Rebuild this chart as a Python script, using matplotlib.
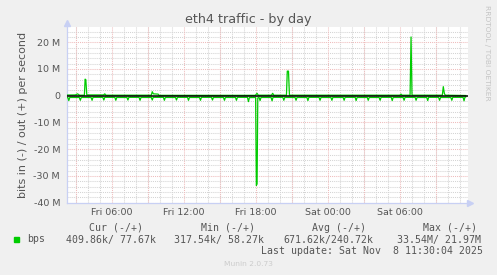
import matplotlib
matplotlib.use("Agg")
import matplotlib.pyplot as plt
from matplotlib.ticker import MultipleLocator, FixedLocator

# Hours since Fri 00:00, traffic in Mbit/s
in_hours = [2.25, 2.32, 2.40, 2.48,
            3.28, 3.36, 3.44,
            4.26, 4.34, 4.42,
            5.24, 5.32, 5.40,
            6.24, 6.32, 6.40,
            7.25, 7.33, 7.41,
            8.26, 8.34, 8.42,
            9.28, 9.36, 9.44,
            10.29, 10.37, 10.45,
            11.30, 11.38, 11.46,
            12.30, 12.38, 12.46,
            13.30, 13.38, 13.46,
            14.30, 14.38, 14.46,
            15.30, 15.38, 15.46,
            16.30, 16.38, 16.46,
            17.30, 17.38, 17.46,
            17.98, 18.04, 18.10, 18.16,
            18.27, 18.35, 18.43,
            19.27, 19.35, 19.43,
            20.25, 20.33, 20.41,
            21.27, 21.35, 21.43,
            22.26, 22.34, 22.42,
            23.27, 23.35, 23.43,
            24.26, 24.34, 24.42,
            25.28, 25.36, 25.44,
            26.28, 26.36, 26.44,
            27.29, 27.37, 27.45,
            28.28, 28.36, 28.44,
            29.29, 29.37, 29.45,
            30.28, 30.36, 30.44,
            31.28, 31.36, 31.44,
            32.25, 32.33, 32.41,
            33.24, 33.32, 33.40,
            34.26, 34.34, 34.42,
            35.28, 35.36, 35.44, 35.50]
in_mbps = [0.70, 0.65, 1.80, 0.65,
           0.65, 1.70, 0.65,
           0.65, 1.70, 0.60,
           0.60, 1.60, 0.60,
           0.60, 1.70, 0.65,
           0.65, 1.60, 0.60,
           0.60, 1.70, 0.65,
           0.65, 1.60, 0.60,
           0.60, 1.70, 0.65,
           0.65, 1.60, 0.60,
           0.60, 1.70, 0.65,
           0.65, 1.70, 0.60,
           0.60, 1.60, 0.65,
           0.65, 1.70, 0.65,
           0.65, 1.70, 0.60,
           0.60, 2.20, 0.70,
           0.65, 33.54, 33.0, 0.80,
           0.65, 1.80, 0.65,
           0.65, 1.90, 0.60,
           0.60, 1.70, 0.65,
           0.65, 1.70, 0.65,
           0.65, 1.80, 0.60,
           0.60, 1.70, 0.65,
           0.65, 1.70, 0.65,
           0.65, 1.70, 0.60,
           0.60, 1.80, 0.65,
           0.65, 1.70, 0.65,
           0.65, 1.70, 0.60,
           0.60, 1.80, 0.65,
           0.65, 1.70, 0.60,
           0.60, 1.70, 0.65,
           0.65, 1.80, 0.60,
           0.60, 1.70, 0.65,
           0.65, 1.70, 0.60,
           0.60, 1.90, 0.45, 0.41]

out_hours = [2.25, 2.95, 3.13, 3.30, 3.70, 3.76, 3.82, 3.90,
             5.30, 5.40, 5.50, 9.28, 9.36, 9.45, 9.85, 9.92,
             17.95, 18.10, 18.20, 19.30, 19.40, 19.50,
             20.55, 20.62, 20.72, 20.80, 30.00, 30.10, 30.20,
             30.86, 30.94, 31.02, 33.55, 33.63, 33.72, 33.80, 35.50]
out_mbps = [0.25, 0.30, 0.70, 0.20, 0.20, 6.20, 6.00, 0.30,
            0.30, 0.70, 0.20, 0.20, 1.50, 0.70, 0.60, 0.15,
            0.15, 0.90, 0.20, 0.20, 0.90, 0.20,
            0.20, 9.20, 9.20, 0.20, 0.20, 0.60, 0.20,
            0.20, 21.97, 0.20, 0.20, 3.40, 0.80, 0.20, 0.08]

y_ticks = [-40, -30, -20, -10, 0, 10, 20]
y_labels = ["-40 M", "-30 M", "-20 M", "-10 M", "0", "10 M", "20 M"]
x_ticks = [6, 12, 18, 24, 30]
x_labels = ["Fri 06:00", "Fri 12:00", "Fri 18:00", "Sat 00:00", "Sat 06:00"]

green = "#00cc00"
txt = "#555555"
axis_col = "#c8d0f4"
red_grid = "#efbcbc"

fig = plt.figure(figsize=(4.97, 2.75), dpi=100, facecolor="#f0f0f0")
ax = fig.add_axes([67 / 497, 1 - 202.7 / 275, 401 / 497, 175.7 / 275])
ax.set_facecolor("white")
ax.set_xlim(2.25, 35.69)
ax.set_ylim(-40, 25.7)

# grid: minor grey, major pale red
ax.xaxis.set_minor_locator(MultipleLocator(1))
ax.yaxis.set_minor_locator(MultipleLocator(2))
ax.grid(which="minor", color="#d4d4d4", linestyle=(0, (1, 1)), linewidth=0.75)
ax.grid(which="major", axis="y", color=red_grid, linestyle=(0, (1, 1)), linewidth=0.75)
ax.set_axisbelow(True)
for h in range(3, 36, 3):
    ax.axvline(h, color=red_grid, linestyle=(0, (1, 1)), linewidth=0.75, zorder=1)

# data lines
ax.plot(out_hours, out_mbps, color=green, linewidth=0.9, zorder=3)
ax.plot(in_hours, [-v for v in in_mbps], color=green, linewidth=0.9, zorder=3)
ax.axhline(0, color="black", linewidth=1.1, zorder=4)

# ticks and labels
ax.yaxis.set_major_locator(FixedLocator(y_ticks))
ax.set_yticklabels(y_labels)
ax.xaxis.set_major_locator(FixedLocator(x_ticks))
ax.set_xticklabels(x_labels)
ax.tick_params(which="both", length=0, labelsize=6.8, labelcolor=txt)
ax.tick_params(axis="y", pad=5)
ax.tick_params(axis="x", pad=4)

for s in ["top", "right"]:
    ax.spines[s].set_visible(False)
for s in ["left", "bottom"]:
    ax.spines[s].set_color(axis_col)
    ax.spines[s].set_linewidth(0.9)
ax.plot([0], [1.02], marker="^", color=axis_col, markersize=4, transform=ax.transAxes, clip_on=False)
ax.plot([1.005], [0], marker=">", color=axis_col, markersize=4, transform=ax.transAxes, clip_on=False)

ax.set_ylabel("bits in (-) / out (+) per second", fontsize=8, color=txt, labelpad=4)
fig.text(248 / 497, 1 - 19 / 275, "eth4 traffic - by day", ha="center", va="center",
         fontsize=9.2, color=txt)
fig.text(487 / 497, 1 - 53 / 275, "RRDTOOL / TOBI OETIKER", rotation=270, ha="center",
         va="center", fontsize=5.4, color="#c4c4c4")

# legend block (monospace, like rrdtool)
mono = dict(family="DejaVu Sans Mono", fontsize=7.1, color=txt, va="center")
def px(x, y, s, **kw):
    fig.text(x / 497, 1 - y / 275, s, **{**mono, **kw})

px(89, 227.7, "Cur (-/+)")
px(201, 227.7, "Min (-/+)")
px(312.3, 227.7, "Avg (-/+)")
px(422.7, 227.7, "Max (-/+)")
fig.patches.append(plt.Rectangle((14 / 497, 1 - 242 / 275), 5 / 497, 5 / 275,
                                 transform=fig.transFigure, color=green, figure=fig))
px(26.7, 239.5, "bps")
px(66.3, 239.5, "409.86k/ 77.67k")
px(174, 239.5, "317.54k/ 58.27k")
px(283.3, 239.5, "671.62k/240.72k")
px(396.7, 239.5, "33.54M/ 21.97M")
px(482.7, 251, "Last update: Sat Nov  8 11:30:04 2025", ha="right")
fig.text(248 / 497, 1 - 264 / 275, "Munin 2.0.73", ha="center", va="center",
         fontsize=5.4, color="#cccccc")

fig.savefig("out.png", dpi=100, facecolor=fig.get_facecolor())
